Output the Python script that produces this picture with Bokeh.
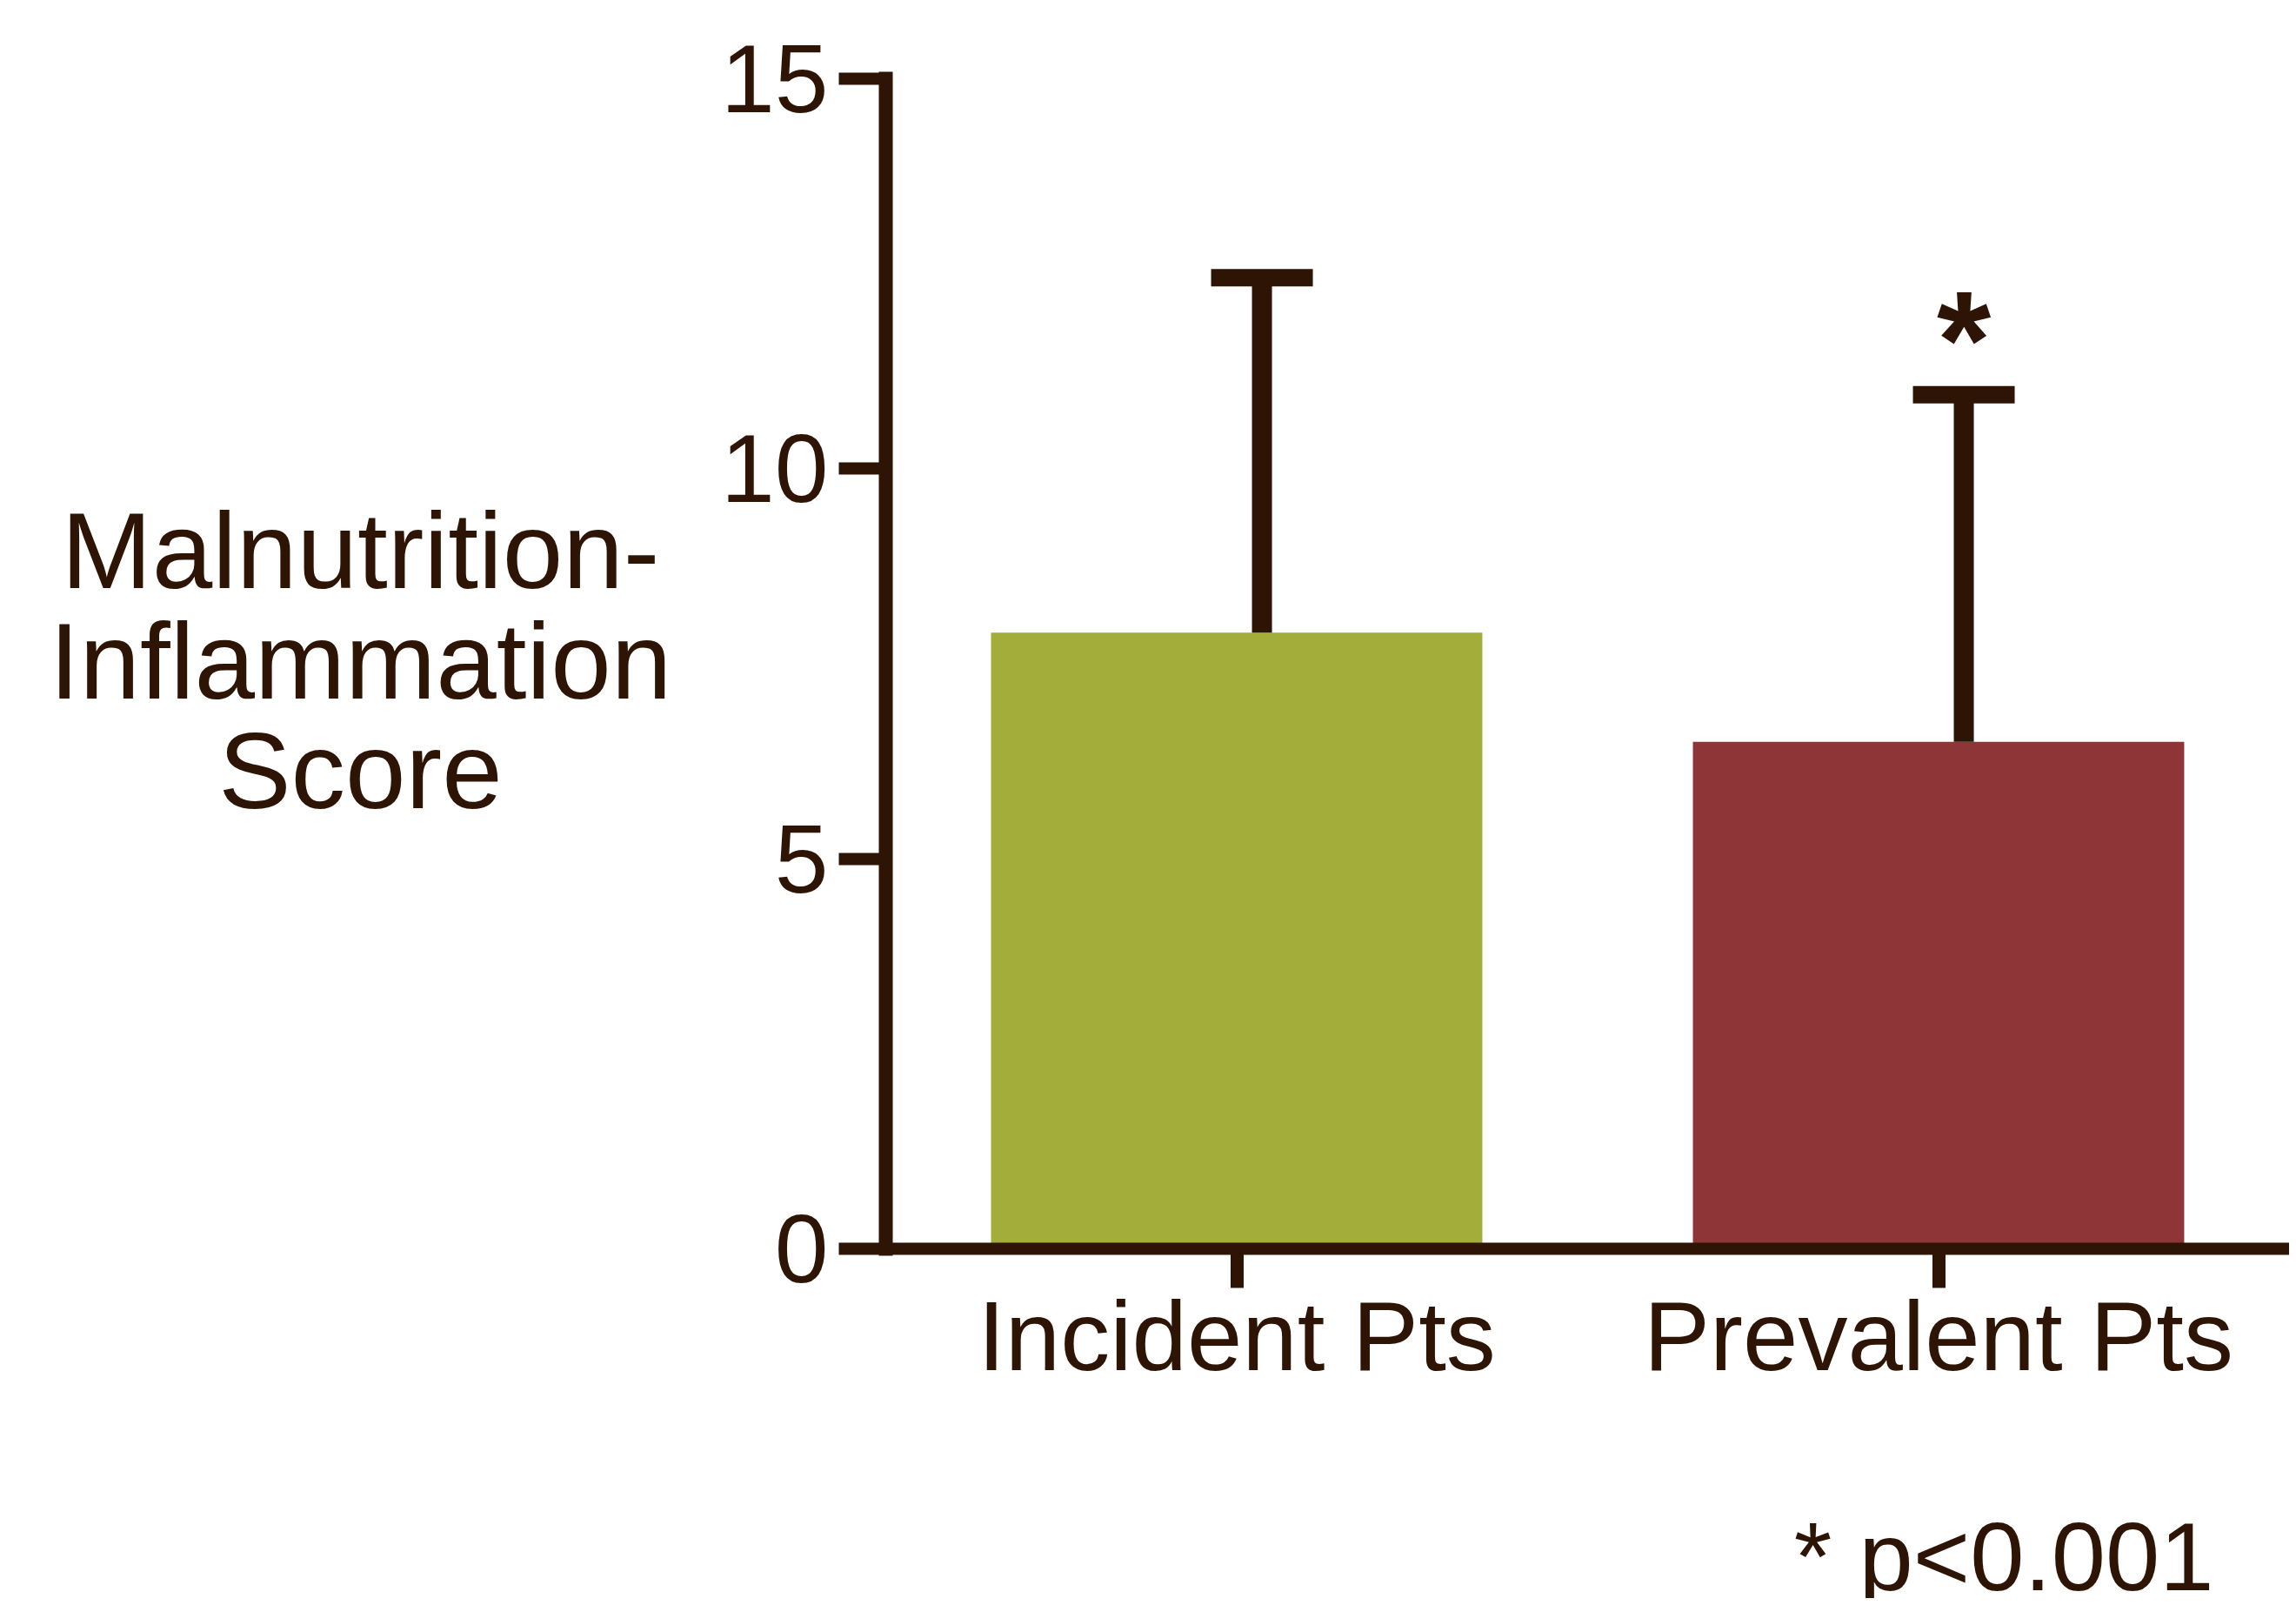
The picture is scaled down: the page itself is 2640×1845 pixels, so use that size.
from bokeh.plotting import figure
from bokeh.models import FactorRange, Range1d, FixedTicker, ColumnDataSource
from bokeh.layouts import row, column
from bokeh.transform import dodge
from bokeh.core.properties import value
from bokeh.embed import file_html
from bokeh.resources import INLINE

# ---- data ----
categories = ["Incident Pts", "Prevalent Pts"]
means = [7.9, 6.5]
sds = [4.55, 4.45]
bar_colors = ["#A2AD3A", "#8E3537"]
significance = ["", "*"]
y_ticks = [0, 5, 10, 15]
y_label = "Malnutrition-\nInflammation\nScore"
footnote = "* p<0.001"

BROWN = "#2E1404"
FONT = "Liberation Sans"

TOTAL_W, TOTAL_H = 2632, 1837
LEFT_W = 800
MAIN_H = 1700
FOOT_H = TOTAL_H - MAIN_H

upper = [m + s for m, s in zip(means, sds)]
src = ColumnDataSource(dict(cat=categories, mean=means, upper=upper,
                            color=bar_colors, sig=significance))


def blank(w, h):
    f = figure(width=w, height=h, x_range=Range1d(0, w), y_range=Range1d(0, h),
               x_axis_type=None, y_axis_type=None, output_backend="svg",
               toolbar_location=None, min_border=0)
    f.outline_line_color = None
    f.grid.visible = False
    return f


# ---- main chart ----
p = figure(width=TOTAL_W - LEFT_W, height=MAIN_H,
           x_range=FactorRange(factors=categories, range_padding=0),
           y_range=Range1d(0, 15),
           output_backend="svg", toolbar_location=None,
           min_border_left=1018 - LEFT_W, min_border_right=0,
           min_border_top=90, min_border_bottom=MAIN_H - 1435)
p.outline_line_color = None
p.grid.visible = False

p.vbar(x="cat", top="mean", bottom=0, width=0.7, fill_color="color",
       line_color=None, source=src)

ex = dodge("cat", 0.036, range=p.x_range)
p.segment(x0=ex, y0="mean", x1=ex, y1="upper", line_width=23,
          line_color=BROWN, source=src)
p.scatter(x=ex, y="upper", marker="dash", size=117, line_width=20,
          line_color=BROWN, source=src)
p.text(x=ex, y="upper", text="sig", text_font=value(FONT),
       text_font_style="bold", text_font_size="160px", text_align="center",
       text_baseline="alphabetic", y_offset=-63, text_color=BROWN, source=src)

for ax in (p.xaxis[0], p.yaxis[0]):
    ax.axis_line_color = BROWN
    ax.axis_line_cap = "square"
    ax.major_tick_line_color = BROWN
    ax.major_tick_in = 0
    ax.minor_tick_line_color = None
    ax.major_label_text_color = BROWN
    ax.major_label_text_font = FONT

p.xaxis.axis_line_width = 14
p.xaxis.major_tick_line_width = 15
p.xaxis.major_tick_out = 45
p.xaxis.major_label_text_font_size = "114px"
p.xaxis.major_label_standoff = -9

p.yaxis.axis_line_width = 16
p.yaxis.major_tick_line_width = 14
p.yaxis.major_tick_out = 54
p.yaxis.ticker = FixedTicker(ticks=y_ticks)
p.yaxis.major_label_text_font_size = "111px"
p.yaxis.major_label_standoff = 12

# ---- y label panel ----
left = blank(LEFT_W, MAIN_H)
left.text(x=[414], y=[MAIN_H - 845], text=[y_label], text_font=value(FONT),
          text_font_size="125px", text_align="center", text_baseline="middle",
          text_line_height=0.913, text_color=BROWN)

# ---- footnote panel ----
foot = blank(TOTAL_W, FOOT_H)
foot.text(x=[2545], y=[48], text=[footnote],
          text_font=value(FONT), text_font_size="112px", text_align="right",
          text_baseline="alphabetic", text_color=BROWN)

layout = column(row(left, p), foot)
open("out.html", "w").write(file_html(layout, INLINE))
